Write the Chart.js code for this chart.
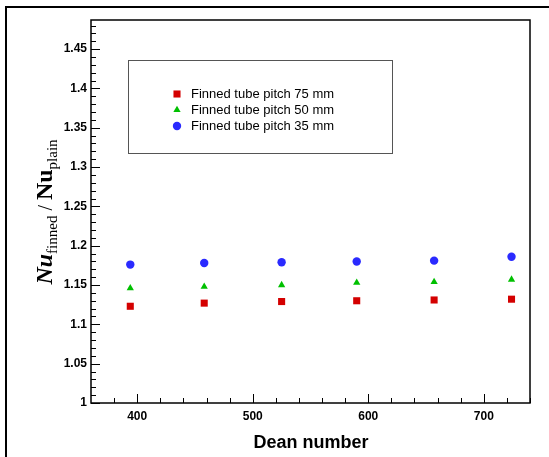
<!DOCTYPE html>
<html>
<head>
<meta charset="utf-8">
<script src="https://cdn.jsdelivr.net/npm/chart.js@4/dist/chart.umd.min.js"></script>
<style>
  html, body { margin: 0; padding: 0; background: #fff; }
  canvas { display: block; }
</style>
</head>
<body>
<canvas id="chart" width="549" height="457"></canvas>
<script>
const deanNumbers = [394, 458, 525, 590, 657, 724];
const pitch75 = [1.123, 1.127, 1.129, 1.130, 1.131, 1.132];
const pitch50 = [1.146, 1.148, 1.150, 1.153, 1.154, 1.157];
const pitch35 = [1.176, 1.178, 1.179, 1.180, 1.181, 1.186];
const seriesNames = ["Finned tube pitch 75 mm", "Finned tube pitch 50 mm", "Finned tube pitch 35 mm"];
const xTicks = [400, 500, 600, 700];
const yTicks = [1, 1.05, 1.1, 1.15, 1.2, 1.25, 1.3, 1.35, 1.4, 1.45];

const toPoints = (ys) => deanNumbers.map((x, i) => ({ x: x, y: ys[i] }));

const tickFont = { family: "'Liberation Sans', Arial, sans-serif", size: 12, weight: "bold" };

// ticks inside the frame, axis titles, legend box
const decorations = {
  id: "decorations",
  beforeDraw(chart) {
    const ctx = chart.ctx;
    ctx.save();
    ctx.fillStyle = "#fff";
    ctx.fillRect(0, 0, chart.width, chart.height);
    ctx.restore();
  },
  afterDraw(chart) {
    const ctx = chart.ctx;
    const a = chart.chartArea;
    const xs = chart.scales.x;
    const ys = chart.scales.y;
    ctx.save();

    // outer frame of the figure
    ctx.strokeStyle = "#000";
    ctx.lineWidth = 2;
    ctx.strokeRect(6, 7, chart.width + 20, chart.height + 20);

    // plot frame
    ctx.lineWidth = 1.5;
    ctx.strokeRect(a.left, a.top, a.right - a.left, a.bottom - a.top);

    // x ticks
    ctx.lineWidth = 1;
    ctx.beginPath();
    for (let v = 380; v <= 740; v += 20) {
      const px = Math.round(xs.getPixelForValue(v)) + 0.5;
      const len = xTicks.includes(v) ? 9 : 5;
      ctx.moveTo(px, a.bottom);
      ctx.lineTo(px, a.bottom - len);
    }
    // y ticks
    for (let k = 100; k <= 148; k++) {
      const v = k / 100;
      const py = Math.round(ys.getPixelForValue(v)) + 0.5;
      const len = k % 5 === 0 ? 9 : 5;
      ctx.moveTo(a.left, py);
      ctx.lineTo(a.left + len, py);
    }
    ctx.stroke();

    // x title
    ctx.fillStyle = "#000";
    ctx.font = "bold 18px 'Liberation Sans', Arial, sans-serif";
    ctx.textAlign = "center";
    ctx.textBaseline = "alphabetic";
    ctx.fillText("Dean number", 311, 448);

    // y title: Nu_finned / Nu_plain
    const parts = [
      { t: "Nu", f: "italic bold 24px 'Liberation Serif', serif", dy: 0 },
      { t: "finned", f: "15px 'Liberation Serif', serif", dy: 5 },
      { t: " / ", f: "20px 'Liberation Serif', serif", dy: 0 },
      { t: "Nu", f: "bold 24px 'Liberation Serif', serif", dy: 0 },
      { t: "plain", f: "15px 'Liberation Serif', serif", dy: 5 },
    ];
    let total = 0;
    parts.forEach((p) => { ctx.font = p.f; p.w = ctx.measureText(p.t).width; total += p.w; });
    ctx.translate(52, 212 + total / 2);
    ctx.rotate(-Math.PI / 2);
    ctx.textAlign = "left";
    let off = 0;
    parts.forEach((p) => {
      ctx.font = p.f;
      ctx.fillText(p.t, off, p.dy);
      off += p.w;
    });
    ctx.setTransform(1, 0, 0, 1, 0, 0);

    // legend
    ctx.strokeStyle = "#555";
    ctx.lineWidth = 1;
    ctx.strokeRect(128.5, 60.5, 264, 93);
    ctx.font = "13px 'Liberation Sans', Arial, sans-serif";
    ctx.textAlign = "left";
    ctx.textBaseline = "middle";
    chart.data.datasets.forEach((ds, i) => {
      const y = 94 + i * 16;
      ctx.fillStyle = ds.backgroundColor;
      ctx.strokeStyle = ds.backgroundColor;
      Chart.helpers.drawPoint(ctx, { pointStyle: ds.pointStyle, radius: ds.pointRadius, borderWidth: 0 }, 177, y);
      ctx.fillStyle = "#000";
      ctx.fillText(ds.label, 191, y);
    });
    ctx.restore();
  }
};

new Chart(document.getElementById("chart"), {
  type: "scatter",
  data: {
    datasets: [
      { label: seriesNames[0], data: toPoints(pitch75), pointStyle: "rect", pointRadius: 5,
        backgroundColor: "#d40000", borderColor: "#d40000", borderWidth: 0 },
      { label: seriesNames[1], data: toPoints(pitch50), pointStyle: "triangle", pointRadius: 4.2,
        backgroundColor: "#00c000", borderColor: "#00c000", borderWidth: 0 },
      { label: seriesNames[2], data: toPoints(pitch35), pointStyle: "circle", pointRadius: 4.2,
        backgroundColor: "#2a2aff", borderColor: "#2a2aff", borderWidth: 0 },
    ]
  },
  options: {
    responsive: false,
    animation: false,
    layout: { padding: { left: 0, top: 20, right: 19, bottom: 0 } },
    plugins: { legend: { display: false }, tooltip: { enabled: false } },
    scales: {
      x: {
        type: "linear",
        min: 360,
        max: 740,
        grid: { display: false, drawTicks: false },
        border: { display: false },
        afterBuildTicks: (s) => { s.ticks = xTicks.map((v) => ({ value: v })); },
        afterFit: (s) => { s.height = 54; },
        ticks: { font: tickFont, color: "#000", padding: 6, maxRotation: 0 }
      },
      y: {
        min: 1,
        max: 1.487,
        grid: { display: false, drawTicks: false },
        border: { display: false },
        afterBuildTicks: (s) => { s.ticks = yTicks.map((v) => ({ value: v })); },
        afterFit: (s) => { s.width = 91; },
        ticks: { font: tickFont, color: "#000", padding: 4, callback: (v) => String(+v.toFixed(2)) }
      }
    }
  },
  plugins: [decorations]
});
</script>
</body>
</html>
